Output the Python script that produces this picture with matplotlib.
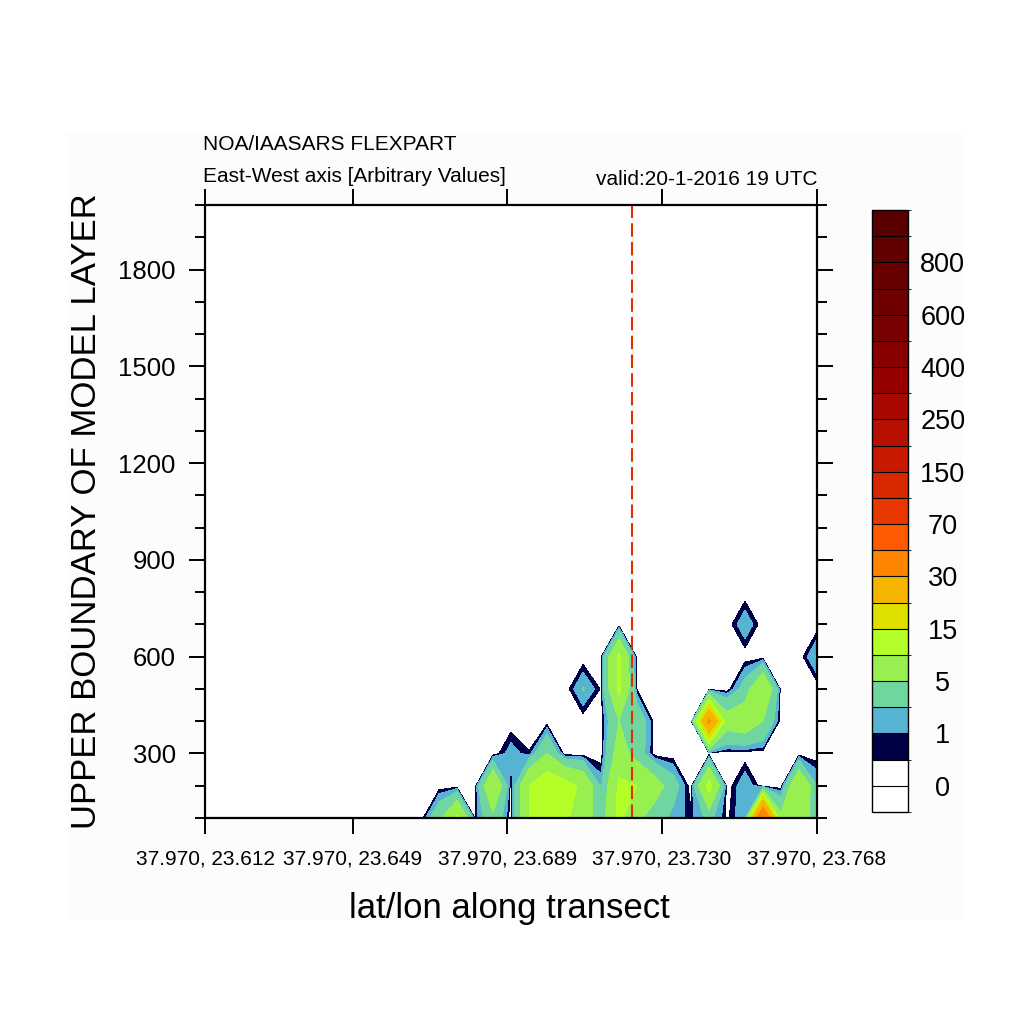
import numpy as np
import matplotlib
matplotlib.use("Agg")
import matplotlib.pyplot as plt
from matplotlib import colors
from matplotlib.cm import ScalarMappable
from matplotlib.patches import Rectangle
from matplotlib.ticker import MultipleLocator

plt.rcParams['font.family'] = ['Liberation Sans', 'DejaVu Sans']

# transect (constant latitude, west -> east)
LAT = 37.970
LON_START = 23.612
LON_END = 23.768
N_LON = 35
heights = np.arange(100, 2001, 100)   # upper boundary of model layers
section_lon = 23.7208                 # position of the marked point

# concentration per layer, arbitrary values
conc_100 = [0, 0, 0, 0, 0, 0, 0, 0, 0, 0, 0, 0, 0, 4, 11, 0.45, 4, 0,
            10, 12, 11, 7, 3, 11, 6, 3, 1.5, 0.7, 2.5, 0.3, 1.8, 45, 6, 9, 2]
conc_200 = [0, 0, 0, 0, 0, 0, 0, 0, 0, 0, 0, 0, 0, 0, 0, 0, 10, 0,
            10, 14, 12, 9, 1.6, 11, 10, 7, 3, 0, 12, 0, 1.8, 0, 0, 10, 2]
conc_300 = [0, 0, 0, 0, 0, 0, 0, 0, 0, 0, 0, 0, 0, 0, 0, 0, 0, 1.5,
            0.55, 5, 0, 0, 0, 7, 3.5, 0, 0, 0, 0, 0, 0, 0, 0, 0, 0]
conc_400 = [0, 0, 0, 0, 0, 0, 0, 0, 0, 0, 0, 0, 0, 0, 0, 0, 0, 0,
            0, 0, 0, 0, 0, 5, 4, 0, 0, 0, 32, 7, 8, 5, 0, 0, 0]
conc_500 = [0, 0, 0, 0, 0, 0, 0, 0, 0, 0, 0, 0, 0, 0, 0, 0, 0, 0,
            0, 0, 0, 2.1, 0.4, 11, 0.4, 0, 0, 0, 0, 0, 3, 10, 0, 0, 0]
conc_600 = [0, 0, 0, 0, 0, 0, 0, 0, 0, 0, 0, 0, 0, 0, 0, 0, 0, 0,
            0, 0, 0, 0, 0.3, 11, 0, 0, 0, 0, 0, 0, 0, 0, 0, 0, 2.2]
conc_700 = [0, 0, 0, 0, 0, 0, 0, 0, 0, 0, 0, 0, 0, 0, 0, 0, 0, 0,
            0, 0, 0, 0, 0, 0, 0, 0, 0, 0, 0, 0, 1.8, 0, 0, 0, 0]
# nothing above 700 m
conc_upper = np.zeros((len(heights) - 7, N_LON))

levels = [0, 0.5, 1, 2, 5, 10, 15, 20, 30, 50, 70, 100, 150, 200, 250,
          300, 400, 500, 600, 700, 800, 900]
fill_colors = ['#ffffff', '#ffffff', '#000046', '#56b4d2', '#70d6a0',
               '#98f050', '#b4ff28', '#e0e000', '#f5b400', '#ff8400',
               '#ff5a00', '#e83800', '#d82800', '#c81800', '#b81000',
               '#a80800', '#980000', '#880000', '#780000', '#700000',
               '#680000', '#600000', '#580000']

tick_lons = [23.612, 23.6497, 23.6890, 23.7284, 23.768]
tick_labels = ["37.970, 23.612", "37.970, 23.649", "37.970, 23.689",
               "37.970, 23.730", "37.970, 23.768"]

lon = np.linspace(LON_START, LON_END, N_LON)
conc = np.vstack([conc_100, conc_200, conc_300, conc_400, conc_500,
                  conc_600, conc_700, conc_upper])

fig = plt.figure(figsize=(10.24, 10.24), dpi=100)
fig.patches.append(Rectangle((67 / 1024, 1 - 920 / 1024), 896 / 1024, 787 / 1024,
                             transform=fig.transFigure, facecolor='#fcfcfc',
                             edgecolor='none', zorder=-10))

ax = fig.add_axes([205 / 1024, 1 - 818 / 1024, 612 / 1024, 613 / 1024])
ax.contourf(lon, heights, conc, levels=levels, colors=fill_colors, extend='both')
ax.axvline(section_lon, color='#e03000', lw=1.5, ls=(0, (6.5, 2.5)))

ax.set_xlim(LON_START, LON_END)
ax.set_ylim(100, 2000)
ax.set_xticks(tick_lons, labels=tick_labels)
ax.set_yticks([300, 600, 900, 1200, 1500, 1800])
ax.yaxis.set_minor_locator(MultipleLocator(100))
ax.tick_params(axis='both', which='both', direction='out', top=True, right=True,
               labeltop=False, labelright=False, width=1.4, color='black')
ax.tick_params(axis='both', which='major', length=11.5)
ax.tick_params(axis='y', which='minor', length=7)
ax.tick_params(axis='x', which='major', labelsize=15, pad=11)
ax.tick_params(axis='y', which='major', labelsize=18.5, pad=9.5)
for s in ax.spines.values():
    s.set_linewidth(1.6)

ax.text(-0.194, 0.5, "UPPER BOUNDARY OF MODEL LAYER", transform=ax.transAxes,
        rotation=90, ha='center', va='center', fontsize=25)
ax.text(0.498, -0.163, "lat/lon along transect", transform=ax.transAxes,
        ha='center', va='baseline', fontsize=25)

fig.text(203 / 1024, 1 - 150 / 1024, "NOA/IAASARS FLEXPART", fontsize=15,
         ha='left', va='baseline')
fig.text(203 / 1024, 1 - 182 / 1024, "East-West axis [Arbitrary Values]",
         fontsize=15, ha='left', va='baseline')
fig.text(818 / 1024, 1 - 185 / 1024, "valid:20-1-2016 19 UTC", fontsize=15,
         ha='right', va='baseline')

# label bar: one equal box per colour, labels on every other boundary
cax = fig.add_axes([872 / 1024, 1 - 812 / 1024, 36 / 1024, 602 / 1024])
n_box = len(fill_colors)
bar_cmap = colors.ListedColormap(fill_colors)
bar_norm = colors.BoundaryNorm(np.arange(n_box + 1), n_box)
cb = fig.colorbar(ScalarMappable(norm=bar_norm, cmap=bar_cmap), cax=cax,
                  drawedges=True)
cb.outline.set_linewidth(1.0)
cb.dividers.set_linewidth(0.8)
cb.set_ticks(np.arange(1, len(levels) + 1, 2),
             labels=[f"{v:g}" for v in levels[::2]])
cax.tick_params(length=0, labelsize=19.5, pad=25)
for lab in cax.get_yticklabels():
    lab.set_horizontalalignment('center')

fig.savefig("out.png", dpi=100)
